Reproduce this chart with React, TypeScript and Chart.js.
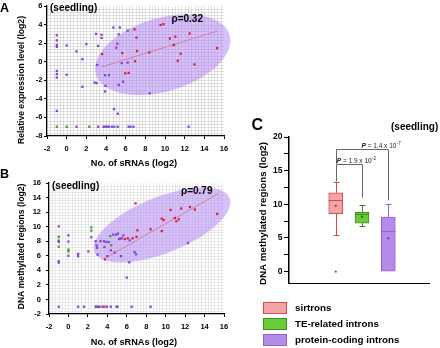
import { useEffect, useRef } from "react";
import { Chart, registerables } from "chart.js";

Chart.register(...registerables);

const FONT = "'Liberation Sans', Arial, Helvetica, sans-serif";

// ---------- Panel A: relative expression level vs. number of sRNAs (log2) ----------
const aSirtrons = [
  [3.6, 0.82], [5.65, 0.94], [6.9, 3.48], [7.1, 2.6], [7.15, 1.15], [6.95, 0.05],
  [5.95, -1.25], [6.3, -1.2], [8.4, 1.0], [9.55, 3.96], [9.85, 4.04], [10.5, 2.5],
  [10.9, 1.8], [11.05, 2.7], [11.3, 0.1], [11.6, 0.86], [12.5, 3.04], [13.0, -0.3], [15.3, 1.46],
];
const aCodingIntrons = [
  [-1, 2.85], [-1, 2.3], [-1, 1.8], [-1, 1.6], [-1, -1.0], [-1, -1.33], [-1, -1.7], [-1, -5.3],
  [0, 1.75], [0, -1.4], [1, 1.1], [1.6, 0.27], [1.6, -2.7], [2.0, 1.9], [3.0, 3.0], [3.2, 1.7],
  [2.85, -2.25], [3.05, -2.3], [3.55, 2.9], [3.55, 2.55], [3.1, -0.35], [3.9, -3.2], [3.95, -2.6],
  [3.9, -1.45], [4.3, -1.45], [4.75, 3.68], [5.4, 3.68], [5.3, 2.95], [5.15, 1.95], [5.05, 1.5],
  [6.2, 3.35], [6.2, -0.1], [5.6, -0.15], [5.75, -2.15], [5.3, -2.5], [8.45, -3.4], [4.8, -5.1],
  [5.2, -5.6], [1, -7], [3.2, -7], [3.75, -7], [3.95, -7], [4.1, -7], [4.3, -7], [4.6, -7],
  [4.85, -7], [5.2, -7], [6.3, -7], [6.5, -7], [6.8, -7], [12.4, -7],
];
const aTEIntrons = [[-1, -7], [0, -7], [2.3, -7]];
const aFit = [[3.6, -0.55], [15.3, 3.3]];
// ellipse: centre, major half-axis, minor half-axis (data units)
const aEllipseCentre = [9.77, 0.76];
const aEllipseMajor = [6.79, 2.14];
const aEllipseMinor = [1.08, -3.78];
const aRho = "ρ=0.32";

// ---------- Panel B: DNA methylated regions vs. number of sRNAs (log2) ----------
const bSirtrons = [
  [3.75, 5.5], [5.8, 8.3], [6.1, 8.4], [6.6, 8.4], [6.9, 13.2], [7.0, 8.6], [7.1, 9.5],
  [8.45, 9.65], [9.6, 11.1], [9.6, 9.4], [9.8, 10.9], [10.5, 12.3], [10.95, 11.2], [11.1, 10.75],
  [11.35, 11.0], [11.6, 12.5], [12.5, 12.7], [13.0, 12.35], [15.3, 11.75], [3.5, -1],
];
const bCodingIntrons = [
  [-1, 10.05], [-1, 8.1], [-1, 7.9], [-1, 5.25], [-1, 5.05], [0, 8.8], [0, 7.95], [0, 6.0],
  [1, 6.25], [1, 5.93], [2.05, 6.6], [2.35, 8.55], [2.8, 8.0], [2.9, 7.4], [2.95, 7.1], [3.0, 6.15],
  [3.3, 8.0], [3.65, 8.0], [3.9, 7.9], [4.15, 7.9], [3.7, 7.2], [4.0, 5.95], [4.35, 6.75],
  [4.75, 6.45], [4.6, 8.9], [4.9, 8.9], [5.1, 9.05], [5.2, 8.3], [5.35, 8.35], [5.5, 8.4],
  [5.65, 8.8], [5.4, 5.95], [6.3, 8.1], [6.25, 5.1], [6.8, 6.5], [6.95, 6.2], [6.0, 3.0],
  [12.3, 7.75], [-1, -1], [1, -1], [1.6, -1], [2.8, -1], [2.9, -1], [3.05, -1], [3.2, -1],
  [3.7, -1], [3.95, -1], [4.35, -1], [4.95, -1], [5.05, -1], [6.5, -1], [8.45, -1],
];
const bTEIntrons = [
  [-1, 8.6], [-1, 7.25], [0, 6.85], [0, 6.6], [2.35, 9.9], [2.35, 9.45], [4.3, 8.7], [4.4, 7.45],
];
const bFit = [[3.75, 5.64], [15.4, 14.54]];
const bEllipseCentre = [9.63, 10.23];
const bEllipseMajor = [6.94, 3.71];
const bEllipseMinor = [1.07, -3.57];
const bRho = "ρ=0.79";

// ---------- Panel C: DNA methylated regions per intron class ----------
const cGroups = ["sirtrons", "TE-related introns", "protein-coding introns"];
const cPos = [1, 2, 3];
const cWhiskerLow = [5.4, 6.75, 0];
const cQ1 = [8.6, 7.2, 0];
const cMedian = [10.7, 8.55, 6.1];
const cQ3 = [11.7, 8.8, 8.1];
const cWhiskerHigh = [13.3, 9.85, 10.1];
const cMean = [9.8, 8.15, 4.95];
const cOutliers = [[1, 0]];
const cBracketFrom = [1, 1];
const cBracketTo = [2, 3];
const cBracketTop = [16.0, 18.25];
const cBracketLeftEnd = [13.4, 16.0];
const cBracketRightEnd = [11.0, 10.6];
const cPLabelAt = [1.04, 1.98];
const cPMantissa = ["1.9", "1.4"];
const cPExponent = ["-2", "-7"];

const cFill = ["#f3a5a5", "#6bcb38", "#b58be9"];
const cStroke = ["#dc4b4b", "#3e8e22", "#9262d8"];
const cMeanColor = ["#c0303a", "#2d6a14", "#6c3cb8"];

const PURPLE = "#7d45d6";
const RED = "#d42434";
const GREEN = "#3f9a26";
const ELLIPSE_FILL = "rgba(172, 122, 244, 0.48)";

const toXY = (rows: number[][]) => rows.map(([x, y]) => ({ x, y }));

type Note = {
  text: string;
  x: number;
  y: number;
  size: number;
  bold?: boolean;
  align?: CanvasTextAlign;
  baseline?: CanvasTextBaseline;
  rotate?: boolean;
};

function notesPlugin(items: Note[]) {
  return {
    id: "notes",
    afterDraw(chart: any) {
      const ctx = chart.ctx as CanvasRenderingContext2D;
      for (const n of items) {
        ctx.save();
        ctx.font = `${n.bold === false ? "" : "bold "}${n.size}px ${FONT}`;
        ctx.fillStyle = "#000";
        ctx.textAlign = n.align ?? "left";
        ctx.textBaseline = n.baseline ?? "middle";
        ctx.translate(n.x, n.y);
        if (n.rotate) ctx.rotate(-Math.PI / 2);
        ctx.fillText(n.text, 0, 0);
        ctx.restore();
      }
    },
  };
}

function fineGridPlugin(xStep: number, yStep: number, color: string) {
  return {
    id: "fineGrid",
    beforeDatasetsDraw(chart: any) {
      const { ctx, chartArea: a, scales } = chart;
      const x = scales.x;
      const y = scales.y;
      ctx.save();
      ctx.strokeStyle = color;
      ctx.lineWidth = 1;
      ctx.beginPath();
      const nx = Math.round((x.max - x.min) / xStep);
      for (let i = 1; i < nx; i++) {
        const px = Math.round(x.getPixelForValue(x.min + i * xStep)) + 0.5;
        ctx.moveTo(px, a.top);
        ctx.lineTo(px, a.bottom);
      }
      const ny = Math.round((y.max - y.min) / yStep);
      for (let j = 1; j < ny; j++) {
        const py = Math.round(y.getPixelForValue(y.min + j * yStep)) + 0.5;
        ctx.moveTo(a.left, py);
        ctx.lineTo(a.right, py);
      }
      ctx.stroke();
      ctx.restore();
    },
  };
}

function ellipsePlugin(c: number[], u: number[], v: number[], fill: string) {
  return {
    id: "ellipse",
    beforeDatasetsDraw(chart: any) {
      const { ctx, scales } = chart;
      const x = scales.x;
      const y = scales.y;
      ctx.save();
      ctx.fillStyle = fill;
      ctx.beginPath();
      const n = 120;
      for (let k = 0; k <= n; k++) {
        const t = (k / n) * Math.PI * 2;
        const dx = c[0] + u[0] * Math.cos(t) + v[0] * Math.sin(t);
        const dy = c[1] + u[1] * Math.cos(t) + v[1] * Math.sin(t);
        const px = x.getPixelForValue(dx);
        const py = y.getPixelForValue(dy);
        if (k === 0) ctx.moveTo(px, py);
        else ctx.lineTo(px, py);
      }
      ctx.closePath();
      ctx.fill();
      ctx.restore();
    },
  };
}

const tickFont = { family: FONT, size: 7.5, weight: "bold" as const };

function scatterConfig(p: any): any {
  const pointBase = { pointStyle: "rect", pointRadius: 1.6, pointBorderWidth: 0, pointHoverRadius: 1.6 };
  return {
    type: "scatter",
    data: {
      datasets: [
        { data: toXY(p.sirtrons), pointBackgroundColor: RED, ...pointBase },
        { data: toXY(p.te), pointBackgroundColor: GREEN, ...pointBase },
        { data: toXY(p.coding), pointBackgroundColor: PURPLE, ...pointBase },
        {
          type: "line",
          data: toXY(p.fit),
          borderColor: "#d47fa0",
          borderWidth: 1,
          pointRadius: 0,
          showLine: true,
          fill: false,
        },
      ],
    },
    options: {
      responsive: false,
      animation: false,
      devicePixelRatio: 1,
      events: [],
      layout: { padding: { top: p.top, right: p.right, left: 0, bottom: 0 } },
      plugins: { legend: { display: false }, tooltip: { enabled: false } },
      scales: {
        x: {
          type: "linear",
          min: -2,
          max: 16,
          ticks: { stepSize: 2, font: tickFont, color: "#000", padding: 5, maxRotation: 0 },
          grid: { drawOnChartArea: false, tickLength: 3, color: "#000", lineWidth: 1 },
          border: { color: "#000", width: 1.3 },
          afterFit: (s: any) => {
            s.height = 34;
          },
        },
        y: {
          type: "linear",
          min: p.yMin,
          max: p.yMax,
          ticks: { stepSize: 2, font: tickFont, color: "#000", padding: p.yPad },
          grid: { drawOnChartArea: false, tickLength: 3, color: "#000", lineWidth: 1 },
          border: { color: "#000", width: 1.3 },
          afterFit: (s: any) => {
            s.width = p.yWidth;
          },
        },
      },
    },
    plugins: [
      fineGridPlugin(p.gridX, p.gridY, p.gridColor),
      ellipsePlugin(p.ec, p.eu, p.ev, ELLIPSE_FILL),
      notesPlugin(p.notes),
    ],
  };
}

function whiskerPlugin() {
  return {
    id: "whiskers",
    beforeDatasetsDraw(chart: any) {
      const { ctx, scales } = chart;
      const x = scales.x;
      const y = scales.y;
      ctx.save();
      ctx.lineWidth = 1;
      cPos.forEach((pos, i) => {
        const px = Math.round(x.getPixelForValue(pos)) + 0.5;
        ctx.strokeStyle = cStroke[i];
        ctx.beginPath();
        const hi = y.getPixelForValue(cWhiskerHigh[i]);
        const q3 = y.getPixelForValue(cQ3[i]);
        ctx.moveTo(px, q3);
        ctx.lineTo(px, hi);
        const hy = Math.round(hi) + 0.5;
        ctx.moveTo(px - 3, hy);
        ctx.lineTo(px + 3, hy);
        if (cWhiskerLow[i] < cQ1[i]) {
          const lo = y.getPixelForValue(cWhiskerLow[i]);
          const q1 = y.getPixelForValue(cQ1[i]);
          ctx.moveTo(px, q1);
          ctx.lineTo(px, lo);
          const ly = Math.round(lo) + 0.5;
          ctx.moveTo(px - 3, ly);
          ctx.lineTo(px + 3, ly);
        }
        ctx.stroke();
      });
      ctx.restore();
    },
    afterDatasetsDraw(chart: any) {
      const { ctx, scales } = chart;
      const x = scales.x;
      const y = scales.y;
      ctx.save();
      ctx.lineWidth = 1;
      cPos.forEach((pos, i) => {
        const px = x.getPixelForValue(pos);
        const my = Math.round(y.getPixelForValue(cMedian[i])) + 0.5;
        ctx.strokeStyle = cStroke[i];
        ctx.beginPath();
        ctx.moveTo(px - 7, my);
        ctx.lineTo(px + 7, my);
        ctx.stroke();
      });
      ctx.restore();
    },
  };
}

function bracketPlugin() {
  return {
    id: "brackets",
    afterDatasetsDraw(chart: any) {
      const { ctx, scales } = chart;
      const x = scales.x;
      const y = scales.y;
      ctx.save();
      ctx.strokeStyle = "#666";
      ctx.lineWidth = 1;
      cBracketFrom.forEach((from, i) => {
        const x1 = Math.round(x.getPixelForValue(from)) + 0.5;
        const x2 = Math.round(x.getPixelForValue(cBracketTo[i])) + 0.5;
        const top = Math.round(y.getPixelForValue(cBracketTop[i])) + 0.5;
        const l = y.getPixelForValue(cBracketLeftEnd[i]);
        const r = y.getPixelForValue(cBracketRightEnd[i]);
        ctx.beginPath();
        ctx.moveTo(x1, l);
        ctx.lineTo(x1, top);
        ctx.lineTo(x2, top);
        ctx.lineTo(x2, r);
        ctx.stroke();

        // P-value label with superscript exponent
        let tx = x.getPixelForValue(cPLabelAt[i]);
        const base = top - 1.5;
        ctx.fillStyle = "#222";
        ctx.textBaseline = "alphabetic";
        ctx.textAlign = "left";
        ctx.font = `italic bold 6.5px ${FONT}`;
        ctx.fillText("P", tx, base);
        tx += ctx.measureText("P").width;
        ctx.font = `6.5px ${FONT}`;
        const body = ` = ${cPMantissa[i]} x 10`;
        ctx.fillText(body, tx, base);
        tx += ctx.measureText(body).width;
        ctx.font = `4.5px ${FONT}`;
        ctx.fillText(cPExponent[i], tx + 0.3, base - 3);
      });
      ctx.restore();
    },
  };
}

function boxConfig(): any {
  return {
    type: "bar",
    data: {
      datasets: [
        {
          type: "scatter",
          data: toXY(cPos.map((p, i) => [p, cMean[i]])),
          pointStyle: "rect",
          pointRadius: 1.4,
          pointBorderWidth: 0,
          pointBackgroundColor: cMeanColor,
        },
        {
          type: "scatter",
          data: toXY(cOutliers),
          pointStyle: "rect",
          pointRadius: 1.4,
          pointBorderWidth: 0,
          pointBackgroundColor: RED,
        },
        {
          type: "bar",
          data: cPos.map((p, i) => ({ x: p, y: [cQ1[i], cQ3[i]] })),
          backgroundColor: cFill,
          borderColor: cStroke,
          borderWidth: 1,
          borderSkipped: false,
          barThickness: 14,
        },
      ],
    },
    options: {
      responsive: false,
      animation: false,
      devicePixelRatio: 1,
      events: [],
      layout: { padding: { top: 27, right: 11, left: 0, bottom: 3 } },
      plugins: { legend: { display: false }, tooltip: { enabled: false } },
      scales: {
        x: {
          type: "linear",
          min: 0.11,
          max: 3.66,
          ticks: { display: false },
          grid: { display: false },
          border: { color: "#000", width: 1 },
          afterFit: (s: any) => {
            s.height = 0;
          },
        },
        y: {
          type: "linear",
          min: -1.75,
          max: 20,
          ticks: {
            stepSize: 2.5,
            includeBounds: false,
            autoSkip: false,
            font: { family: FONT, size: 8.5, weight: "bold" },
            color: "#000",
            padding: 1.5,
            callback: (v: any) => (Math.abs(v % 5) < 1e-9 ? String(v) : ""),
          },
          grid: { drawOnChartArea: false, tickLength: 5, color: "#000", lineWidth: 1 },
          border: { color: "#000", width: 1.5 },
          afterFit: (s: any) => {
            s.width = 59;
          },
        },
      },
    },
    plugins: [
      whiskerPlugin(),
      bracketPlugin(),
      notesPlugin([
        { text: "C", x: 21.5, y: 20, size: 16, baseline: "alphabetic" },
        { text: "(seedling)", x: 161, y: 17, size: 10 },
        { text: "DNA methylated regions (log2)", x: 33.5, y: 103.5, size: 9.8, align: "center", rotate: true },
      ]),
    ],
  };
}

function ChartCanvas({ left, top, width, height, build }: any) {
  const ref = useRef<HTMLCanvasElement>(null);
  useEffect(() => {
    const chart = new Chart(ref.current as HTMLCanvasElement, build());
    return () => chart.destroy();
  }, []);
  return (
    <canvas
      ref={ref}
      width={width}
      height={height}
      style={{ position: "absolute", left, top, width, height }}
    />
  );
}

const panelA = () =>
  scatterConfig({
    sirtrons: aSirtrons,
    coding: aCodingIntrons,
    te: aTEIntrons,
    fit: aFit,
    ec: aEllipseCentre,
    eu: aEllipseMajor,
    ev: aEllipseMinor,
    yMin: -8,
    yMax: 6,
    yWidth: 47,
    yPad: 1.5,
    top: 5,
    right: 10,
    gridX: 1 / 3,
    gridY: 1 / 3,
    gridColor: "rgba(0,0,0,0.11)",
    notes: [
      { text: "A", x: 0, y: 11.5, size: 12.5, baseline: "alphabetic" },
      { text: "(seedling)", x: 50, y: 8.5, size: 10 },
      { text: aRho, x: 171.5, y: 19, size: 10 },
      { text: "No. of sRNAs (log2)", x: 134, y: 163, size: 9.2, align: "center" },
      { text: "Relative expression level (log2)", x: 21.7, y: 80, size: 8.6, align: "center", rotate: true },
    ],
  });

const panelB = () =>
  scatterConfig({
    sirtrons: bSirtrons,
    coding: bCodingIntrons,
    te: bTEIntrons,
    fit: bFit,
    ec: bEllipseCentre,
    eu: bEllipseMajor,
    ev: bEllipseMinor,
    yMin: -2,
    yMax: 16,
    yWidth: 49,
    yPad: 5,
    top: 23,
    right: 10,
    gridX: 1 / 3,
    gridY: 0.4,
    gridColor: "rgba(0,0,0,0.07)",
    notes: [
      { text: "B", x: 0, y: 18.3, size: 12.5, baseline: "alphabetic" },
      { text: "(seedling)", x: 52, y: 26.5, size: 10 },
      { text: bRho, x: 181, y: 30.8, size: 10 },
      { text: "No. of sRNAs (log2)", x: 134, y: 182.3, size: 9.2, align: "center" },
      { text: "DNA methylated regions (log2)", x: 21.7, y: 86.5, size: 8.6, align: "center", rotate: true },
    ],
  });

const legendTops = [301.5, 317.5, 333.5];

export default function App() {
  return (
    <div
      style={{
        position: "absolute",
        left: 0,
        top: 0,
        width: 440,
        height: 348,
        background: "#fff",
        overflow: "hidden",
        fontFamily: FONT,
      }}
    >
      <ChartCanvas left={0} top={0} width={234} height={170} build={panelA} />
      <ChartCanvas left={0} top={160} width={234} height={188} build={panelB} />
      <ChartCanvas left={230} top={110} width={210} height={180} build={boxConfig} />
      {cGroups.map((g, i) => (
        <div key={g}>
          <div
            style={{
              position: "absolute",
              left: 263,
              top: legendTops[i],
              width: 24,
              height: 12,
              boxSizing: "border-box",
              background: cFill[i],
              border: `1px solid ${cStroke[i]}`,
            }}
          />
          <div
            style={{
              position: "absolute",
              left: 295,
              top: legendTops[i],
              height: 12,
              lineHeight: "12px",
              fontSize: 9.8,
              fontWeight: "bold",
              color: "#000",
              whiteSpace: "nowrap",
            }}
          >
            {g}
          </div>
        </div>
      ))}
    </div>
  );
}
